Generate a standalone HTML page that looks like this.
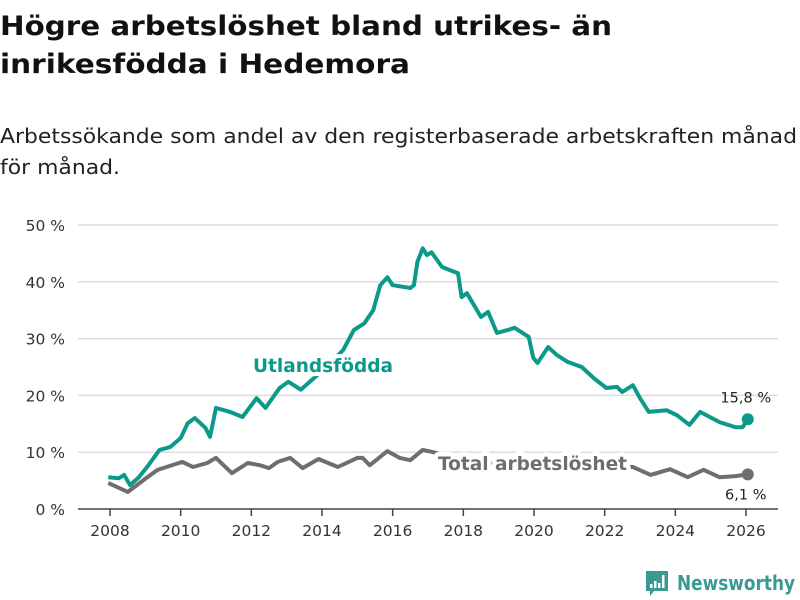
<!DOCTYPE html>
<html><head><meta charset="utf-8"><style>
html,body{margin:0;padding:0;background:#fff;}
svg{display:block;font-family:"DejaVu Sans","Liberation Sans",sans-serif;}
</style></head><body>
<svg id="chart" width="800" height="600" viewBox="0 0 800 600">
<text x="0" y="35" font-size="27" font-weight="bold" fill="#111" textLength="612" lengthAdjust="spacingAndGlyphs">Högre arbetslöshet bland utrikes- än</text>
<text x="0" y="73" font-size="27" font-weight="bold" fill="#111" textLength="410" lengthAdjust="spacingAndGlyphs">inrikesfödda i Hedemora</text>
<text x="0" y="143" font-size="20" fill="#222" textLength="797" lengthAdjust="spacingAndGlyphs">Arbetssökande som andel av den registerbaserade arbetskraften månad</text>
<text x="0" y="174" font-size="20" fill="#222" textLength="120" lengthAdjust="spacingAndGlyphs">för månad.</text>
<g id="grid"></g>
<g id="yticks"></g>
<g id="xticks"></g>
<g id="lines"></g>
<g>
<path d="M646 571 h22 v20 h-14 l-4 5 v-5 h-4 z" fill="#3a9a92"/>
<rect x="650" y="584" width="2.5" height="4" fill="#fff"/>
<rect x="654" y="581" width="2.5" height="7" fill="#fff"/>
<rect x="658" y="583" width="2.5" height="5" fill="#fff"/>
<rect x="662" y="575" width="2.5" height="13" fill="#fff"/>
<text x="677" y="590" font-size="20" font-weight="bold" fill="#3a9a92" textLength="118" lengthAdjust="spacingAndGlyphs">Newsworthy</text>
</g>
</svg>
<script>
const yTicks=[0,10,20,30,40,50];
const xTicks=[2008,2010,2012,2014,2016,2018,2020,2022,2024,2026];
const utYears=[2007.95,2008.25,2008.4,2008.57,2008.8,2009.05,2009.4,2009.7,2010.0,2010.2,2010.4,2010.7,2010.83,2011.0,2011.4,2011.75,2012.15,2012.4,2012.8,2013.05,2013.4,2013.8,2014.2,2014.6,2014.9,2015.2,2015.45,2015.65,2015.85,2016.0,2016.5,2016.6,2016.7,2016.85,2016.97,2017.1,2017.4,2017.6,2017.85,2017.95,2018.1,2018.5,2018.7,2018.95,2019.25,2019.45,2019.85,2019.98,2020.1,2020.4,2020.65,2020.95,2021.35,2021.7,2022.05,2022.35,2022.5,2022.8,2023.0,2023.25,2023.75,2024.05,2024.4,2024.7,2025.25,2025.7,2025.9,2026.05];
const utValues=[5.6,5.4,6.0,4.2,5.5,7.4,10.4,10.9,12.5,15.1,16,14.3,12.7,17.8,17.1,16.2,19.5,17.8,21.3,22.4,21,23.2,25.5,28,31.5,32.7,35,39.4,40.8,39.4,38.9,39.4,43.5,45.9,44.7,45.2,42.6,42.1,41.5,37.3,38,33.8,34.7,31,31.5,31.9,30.3,26.6,25.7,28.5,27.1,25.9,25,23,21.3,21.5,20.6,21.8,19.5,17.1,17.4,16.5,14.8,17.1,15.3,14.4,14.4,15.8];
const totYears=[2007.95,2008.5,2008.95,2009.35,2009.6,2010.05,2010.35,2010.75,2011.0,2011.45,2011.9,2012.25,2012.5,2012.75,2013.1,2013.45,2013.9,2014.45,2015.0,2015.15,2015.35,2015.85,2016.2,2016.5,2016.85,2017.15,2017.6,2018.2,2018.8,2019.4,2020.0,2020.4,2021.0,2021.6,2022.2,2022.8,2023.3,2023.85,2024.35,2024.8,2025.25,2025.7,2026.05];
const totValues=[4.6,3.0,5.1,6.9,7.4,8.3,7.4,8.1,9,6.3,8.1,7.7,7.2,8.3,9,7.2,8.8,7.4,9,9,7.7,10.2,9,8.6,10.4,10,9.2,8.6,8,7.8,8.2,9.2,8.4,7.9,7.6,7.4,6,7,5.6,6.9,5.6,5.8,6.1];
const X0=78,X1=778;
function xs(y){return 110+(y-2008)*(746-110)/18;}
function ys(v){return 509-v*(509-225)/50;}
const NS="http://www.w3.org/2000/svg";
function mk(tag,attrs,parent){const e=document.createElementNS(NS,tag);for(const k in attrs)e.setAttribute(k,attrs[k]);parent.appendChild(e);return e;}
const grid=document.getElementById('grid'),yt=document.getElementById('yticks'),xt=document.getElementById('xticks'),lines=document.getElementById('lines');
yTicks.forEach(v=>{
  if(v>0){const g=mk('line',{x1:X0,x2:X1,y1:ys(v),y2:ys(v),stroke:'#dcdcdc','stroke-width':1.5},grid);
  
  }
  const t=mk('text',{x:65,y:ys(v)+6,'text-anchor':'end','font-size':15.5,fill:'#333'},yt);
  t.textContent=v+' %';
  
  
});
const ax=mk('line',{x1:X0,x2:X1,y1:509,y2:509,stroke:'#444','stroke-width':1.5},xt);


xTicks.forEach(y=>{
  const tk=mk('line',{x1:xs(y),x2:xs(y),y1:509,y2:516,stroke:'#444','stroke-width':1.5},xt);
  
  
  const t=mk('text',{x:xs(y),y:536,'text-anchor':'middle','font-size':15.5,fill:'#333'},xt);
  t.textContent=y;
  
  
});
function path(ya,va){return ya.map((y,i)=>(i?'L':'M')+xs(y).toFixed(1)+' '+ys(va[i]).toFixed(1)).join(' ');}
const pt=mk('path',{d:path(totYears,totValues),fill:'none',stroke:'#6e6e6e','stroke-width':4,'stroke-linejoin':'round'},lines);


const pu=mk('path',{d:path(utYears,utValues),fill:'none',stroke:'#0b9a8a','stroke-width':4,'stroke-linejoin':'round'},lines);


const lu=utYears.length-1,lt=totYears.length-1;
const du=mk('circle',{cx:xs(utYears[lu]),cy:ys(utValues[lu]),r:6,fill:'#0b9a8a'},lines);


const dt=mk('circle',{cx:xs(totYears[lt]),cy:ys(totValues[lt]),r:6,fill:'#6e6e6e'},lines);


const vu=mk('text',{x:xs(utYears[lu])-2,y:ys(utValues[lu])-17,'text-anchor':'middle','font-size':14.5,fill:'#222'},lines);
vu.textContent=String(utValues[lu]).replace('.',',')+' %';


const vt=mk('text',{x:xs(totYears[lt])-2,y:ys(totValues[lt])+25,'text-anchor':'middle','font-size':14.5,fill:'#222'},lines);
vt.textContent=String(totValues[lt]).replace('.',',')+' %';


const l1=mk('text',{x:253,y:372,'font-size':19,'font-weight':'bold',fill:'#0b9a8a',stroke:'#fff','stroke-width':8,'paint-order':'stroke','stroke-linejoin':'round',textLength:140,lengthAdjust:'spacingAndGlyphs'},lines);
l1.textContent='Utlandsfödda';


const l2=mk('text',{x:438,y:470,'font-size':19,'font-weight':'bold',fill:'#6e6e6e',stroke:'#fff','stroke-width':9,'paint-order':'stroke','stroke-linejoin':'round',textLength:189,lengthAdjust:'spacingAndGlyphs'},lines);
l2.textContent='Total arbetslöshet';


</script>
</body></html>
